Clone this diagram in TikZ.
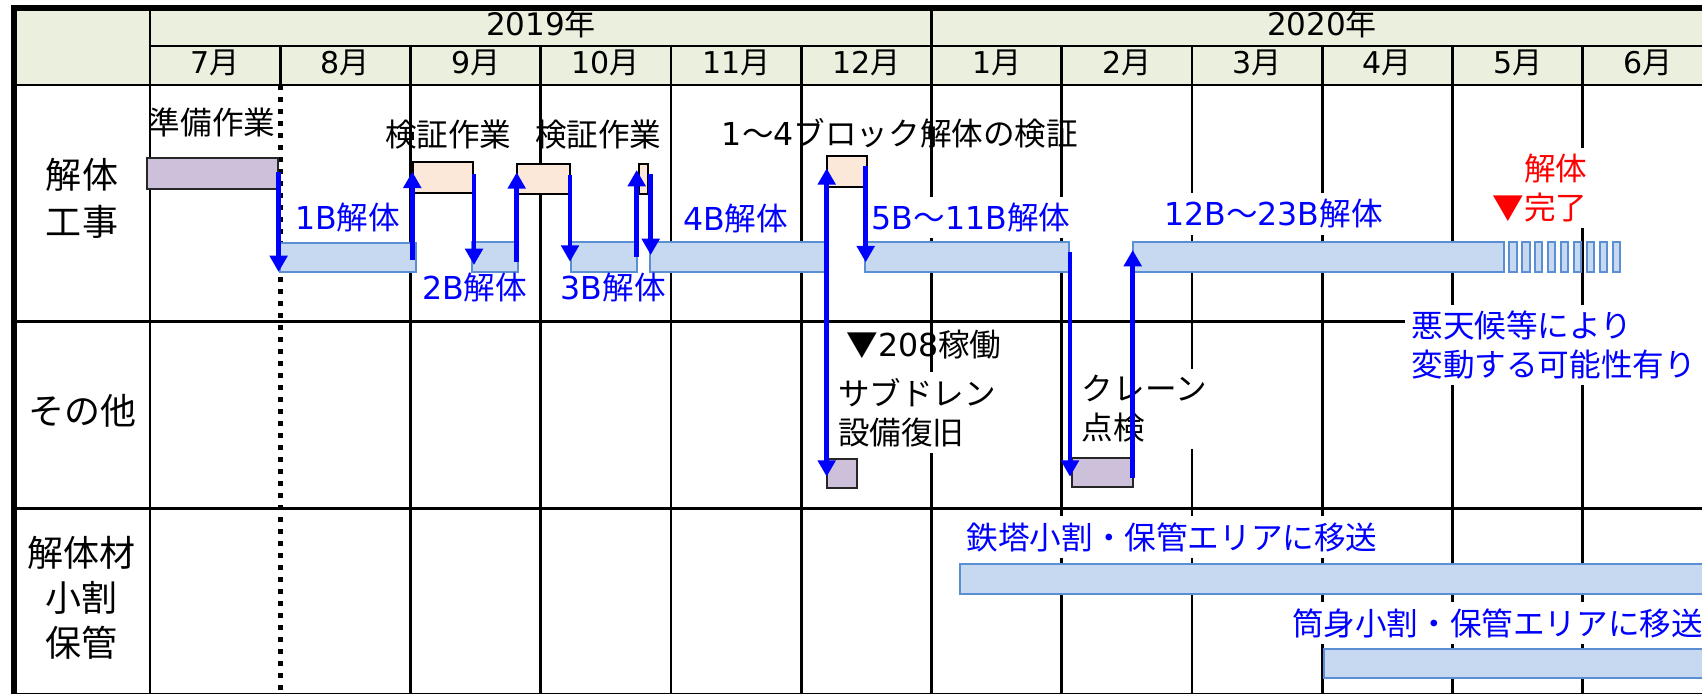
\documentclass[tikz,border=0pt]{standalone}
\usepackage{fontspec}
\setmainfont{Noto Sans CJK JP}
\newfontfamily\lat{DejaVu Sans}
\usetikzlibrary{arrows.meta,fit}
\definecolor{hdr}{RGB}{235,239,222}
\definecolor{barfill}{RGB}{198,217,240}
\definecolor{barline}{RGB}{90,143,212}
\definecolor{peach}{RGB}{252,232,217}
\definecolor{lilac}{RGB}{204,192,218}
\definecolor{arrblue}{RGB}{0,0,255}
\definecolor{txtblue}{RGB}{0,0,255}
\definecolor{txtred}{RGB}{255,0,0}
\begin{document}
\begin{tikzpicture}[x=0.5pt,y=-0.5pt,
  gridline/.style={line width=1.3pt},
  borderline/.style={line width=2.6pt},
  dotline/.style={line width=2.5pt,dash pattern=on 2.3pt off 3.7pt},
  barbox/.style={draw=barline,fill=barfill,line width=1pt,inner sep=0pt},
  peachbox/.style={draw=black,fill=peach,line width=1pt,inner sep=0pt},
  lilacbox/.style={draw=black!85,fill=lilac,line width=1pt,inner sep=0pt},
  arr/.style={draw=arrblue,line width=2.4pt,-{Triangle[width=8.7pt,length=8.2pt]}},
  body/.style={font=\fontsize{15.8}{19.5}\selectfont,inner sep=0pt},
  wbody/.style={body,fill=white,inner sep=3pt},
  rowlbl/.style={font=\fontsize{18}{23.5}\selectfont,inner sep=0pt,align=center},
  yearlbl/.style={font=\fontsize{15.5}{18}\selectfont,inner sep=0pt},
  monlbl/.style={font=\fontsize{15}{17}\selectfont,inner sep=0pt},
  bluet/.style={text=txtblue},
  redt/.style={text=txtred}
]
\useasboundingbox (0,0) rectangle (1702,694);
\clip (0,0) rectangle (1702,694);

% header background
\fill[hdr] (14,8) rectangle (1702,85);

% grid
\draw[gridline] (150,46) -- (1702,46);
\foreach \yy in {85,321.5,508.5,694} \draw[gridline] (14,\yy) -- (1702,\yy);
\draw[gridline] (150,8) -- (150,694);
\draw[gridline] (280.5,46) -- (280.5,85);
\foreach \k in {2,3,4,5,7,8,9,10,11} \draw[gridline] ({150+130.25*\k},46) -- ({150+130.25*\k},694);
\draw[gridline] (931.5,8) -- (931.5,694);
\draw[dotline] (280.5,85) -- (280.5,694);
\draw[borderline] (14,694) -- (14,8) -- (1702,8);

% header texts
\node[yearlbl] (y19) at (541,24) {{\lat 2019}年};
\node[yearlbl] (y20) at (1322,24) {{\lat 2020}年};
\foreach \i/\m in {0/7,1/8,2/9,3/10,4/11,5/12,6/1,7/2,8/3,9/4,10/5,11/6}
  \node[monlbl] (m\i) at ({150+130.25*(\i+0.5)},62.5) {{\lat \m}月};

% row labels
\node[rowlbl] (r1) at (82,198.5) {解体\\工事};
\node[rowlbl] (r2) at (82,411) {その他};
\node[rowlbl,font=\fontsize{18}{22.5}\selectfont] (r3) at (81,598) {解体材\\小割\\保管};

% bars and boxes
\node[lilacbox,fit={(147,158) (278,189)}] (prep) {};
\node[barbox,fit={(280,243) (416,272)}] (b1) {};
\node[peachbox,fit={(413.3,162.3) (472.7,193.3)}] (k1) {};
\node[barbox,fit={(472.3,242.5) (518.3,271.7)}] (b2) {};
\node[peachbox,fit={(516.7,164) (570,194)}] (k2) {};
\node[barbox,fit={(570.7,242.5) (637.3,271.7)}] (b3) {};
\node[peachbox,fit={(639,164) (648.3,194)}] (k3) {};
\node[barbox,fit={(650,242.5) (825,271.7)}] (b4) {};
\node[peachbox,fit={(827.3,156) (866.7,187.3)}] (k4) {};
\node[barbox,fit={(865,242.5) (1069,271.7)}] (b5) {};
\node[barbox,fit={(1133,242.5) (1504,271.7)}] (b12) {};
\foreach \s in {0,...,8}
  \node[barbox,fit={({1509.3+12.9*\s},242.5) ({1516.6+12.9*\s},271.7)}] (st\s) {};
\node[lilacbox,fit={(826.7,459) (856.7,488.3)}] (sd) {};
\node[lilacbox,fit={(1071.7,458.3) (1132.7,487.3)}] (cr) {};
\node[barbox,fit={(960,564.3) (1712,594)}] (bs) {};
\node[barbox,fit={(1323.6,649) (1712,678.3)}] (bt) {};

% texts
\node[body] (tprep) at (212,122) {準備作業};
\node[body] (tchk1) at (448.3,135) {検証作業};
\node[body] (tchk2) at (598.3,135) {検証作業};
\node[body] (tchk4) at (900,133) {{\lat 1}～{\lat 4}ブロック解体の検証};
\node[body,bluet] (t1) at (347.5,217.5) {{\lat 1B}解体};
\node[body,bluet] (t2) at (474.7,288) {{\lat 2B}解体};
\node[body,bluet] (t3) at (613.3,288) {{\lat 3B}解体};
\node[body,bluet] (t4) at (735.5,219) {{\lat 4B}解体};
\node[wbody,bluet] (t5) at (971,217.5) {{\lat 5B}～{\lat 11B}解体};
\node[wbody,bluet] (t12) at (1273.5,214) {{\lat 12B}～{\lat 23B}解体};
\node[wbody,redt,align=right] (tdone) at (1540,187.75) {解体\\▼完了};
\node[body] (t208) at (924,345) {▼{\lat 208}稼働};
\node[wbody,align=left] (tsub) at (917,412.5) {サブドレン\\設備復旧};
\node[wbody,align=left] (tcrn) at (1144.2,409) {クレーン\\点検};
\node[wbody,bluet,align=left,anchor=west] (tbad) at (1405,344.9) {悪天候等により\\変動する可能性有り\hspace*{12pt}};
\node[wbody,bluet] (tsteel) at (1172,537) {鉄塔小割・保管エリアに移送};
\node[wbody,bluet] (ttube) at (1497.5,623) {筒身小割・保管エリアに移送};

% arrow end points
\coordinate (a0s) at (278.6,172);   \coordinate (a0e) at (278.6,272);
\coordinate (a1s) at (412.3,260);   \coordinate (a1e) at (412.3,171.7);
\coordinate (a2s) at (474,174);     \coordinate (a2e) at (474,265);
\coordinate (a3s) at (516.7,261.7); \coordinate (a3e) at (516.7,172.3);
\coordinate (a4s) at (570,175);     \coordinate (a4e) at (570,261.7);
\coordinate (a5s) at (636.7,256.7); \coordinate (a5e) at (636.7,170);
\coordinate (a6s) at (650.7,174);   \coordinate (a6e) at (650.7,255);
\coordinate (a7s) at (826.7,258);   \coordinate (a7e) at (826.7,168.3);
\coordinate (a8e) at (826.7,476.7);
\coordinate (a9s) at (865.7,166);   \coordinate (a9e) at (865.7,262.3);
\coordinate (a10s) at (1070,251.7); \coordinate (a10e) at (1070,476.7);
\coordinate (a11s) at (1132.7,478); \coordinate (a11e) at (1132.7,250);

% arrows
\draw[arr] (a0s) -- (a0e);
\draw[arr] (a1s) -- (a1e);
\draw[arr] (a2s) -- (a2e);
\draw[arr] (a3s) -- (a3e);
\draw[arr] (a4s) -- (a4e);
\draw[arr] (a5s) -- (a5e);
\draw[arr] (a6s) -- (a6e);
\draw[arr] (a7s) -- (a7e);
\draw[arr] (a7s) -- (a8e);
\draw[arr] (a9s) -- (a9e);
\draw[arr] (a10s) -- (a10e);
\draw[arr] (a11s) -- (a11e);
\end{tikzpicture}
\end{document}
